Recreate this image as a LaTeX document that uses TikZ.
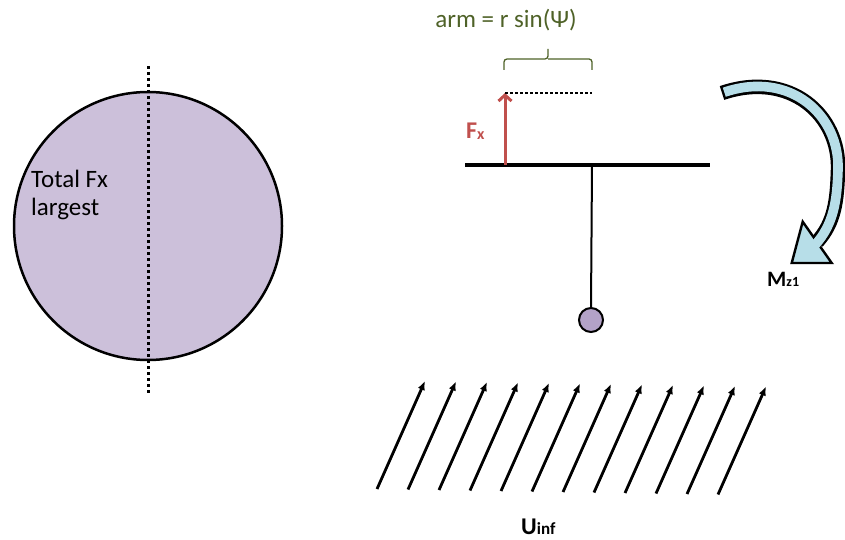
\documentclass[tikz,border=0pt]{standalone}
\usepackage{fontspec}
\setmainfont{Carlito}
\usepackage{xcolor}
\definecolor{disc-fill}{HTML}{CCC0DA}
\definecolor{bob-fill}{HTML}{B3A2C7}
\definecolor{force-red}{HTML}{C0504D}
\definecolor{arm-green}{HTML}{4F6228}
\definecolor{moment-fill}{HTML}{B7DEE8}
\usetikzlibrary{
  arrows.meta,
  calc
}

\begin{document}
\begin{tikzpicture}[
    x=1pt, y=-1pt,
    disc/.style={
      circle,
      draw=black,
      line width=2.5pt,
      fill=disc-fill,
      minimum size=268pt,
      inner sep=0pt
    },
    bob/.style={
      circle,
      draw=black,
      line width=2pt,
      fill=bob-fill,
      minimum size=24pt,
      inner sep=0pt
    },
    caption/.style={
      inner sep=0pt,
      font=\fontsize{25}{28}\selectfont
    },
    tag/.style={
      inner sep=0pt,
      anchor=base west,
      font=\bfseries\fontsize{22}{24}\selectfont
    },
    force/.style={
      -{Straight Barb[length=6pt,width=13pt]},
      line width=3pt,
      color=force-red
    },
    wind/.style={
      -{Latex[length=9pt,width=7.5pt]},
      line width=2.8pt
    },
    moment/.style={
      draw=black,
      line width=2.4pt,
      fill=moment-fill,
      line join=miter
    }
  ]
    \useasboundingbox (0,0) rectangle (845,540);

    % disc seen from above
    \node[disc] (disc) at (148,226) {};
    \draw[line width=3pt, dash pattern=on 3pt off 3pt] (148,66) -- (148,395);
    \node[caption, anchor=base west, align=left] (total) at (31,215) {Total Fx\\largest};

    % pendulum
    \coordinate (barleft)  at (465,165);
    \coordinate (barright) at (710,165);
    \coordinate (pivot)    at (592,165);
    \node[bob] (bob) at (591,320) {};
    \draw[line width=4.5pt] (barleft) -- (barright);
    \draw[line width=2pt] (pivot) -- (bob.north);

    % force and arm
    \coordinate (fxfoot) at (505,165);
    \coordinate (fxtip)  at (505,93);
    \coordinate (armend) at (592,93);
    \draw[force] (fxfoot) -- (fxtip);
    \draw[line width=1.2pt, dash pattern=on 3pt off 2pt] (fxtip) -- (armend);
    \node[tag, text=force-red, font=\bfseries\fontsize{24}{26}\selectfont] (fx) at (466,139)
      {F\raisebox{-0.5pt}{\fontsize{16}{16}\selectfont x}};
    \draw[arm-green, line width=1.3pt, rounded corners=3pt]
      (504,70) -- (504,59) -- (548,59) -- (548,49)
      (548,59) -- (592,59) -- (592,70);
    \node[caption, anchor=base, text=arm-green] (arm) at (506,28) {arm = r sin(Ψ)};

    % moment
    \draw[line width=14.5pt] (722,93) .. controls (790,70) and (840,115) .. (838,170)
      .. controls (837,200) and (835,222) .. (817,242);
    \draw[moment] (791.7,263) -- (802.7,221.7) -- (831.7,263) -- cycle;
    \draw[line width=9.6pt, moment-fill, shorten <=2.4pt] (722,93) .. controls (790,70) and (840,115) .. (838,170)
      .. controls (837,200) and (834,224) .. (815,245);
    \node[tag] (mz) at (767,286) {M\raisebox{-0.5pt}{\fontsize{14}{14}\selectfont z1}};

    % free stream
    \foreach \i in {0,...,11}
      \draw[wind] (377+31*\i, 489+0.5*\i) -- ++(48,-108);
    \node[tag, font=\bfseries\fontsize{24}{26}\selectfont] (uinf) at (521,534)
      {U\raisebox{-0.5pt}{\fontsize{17}{17}\selectfont inf}};
  \end{tikzpicture}
\end{document}
